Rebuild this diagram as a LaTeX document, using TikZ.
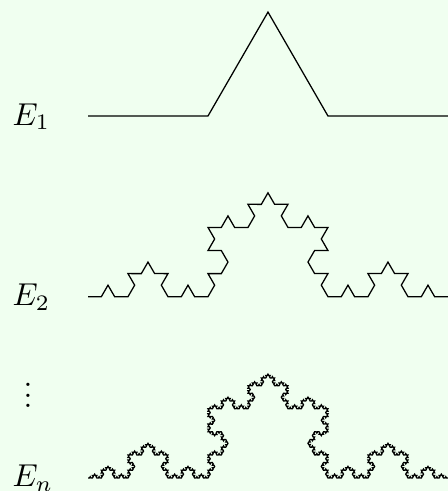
\documentclass[tikz,border=0pt]{standalone}
\usepackage{xcolor}
\usepackage{tikz}
\usetikzlibrary{decorations.fractals}
\definecolor{bgmint}{HTML}{F0FFF0}
\newcommand{\tightvdots}{\vbox{\baselineskip3.3pt\lineskiplimit0pt\hbox{.}\hbox{.}\hbox{.}}}

\begin{document}
\begin{tikzpicture}[
          lbl/.style  = {anchor=base west, inner sep=0pt},
          koch/.style = {decoration=Koch snowflake, line join=miter},
        ]
        \fill[bgmint] (0,0) rectangle (4.9778,-5.4556);
        \useasboundingbox (0,0) rectangle (4.9778,-5.4556);

        % ends of the three curves
        \coordinate (a1) at (0.9778,-1.2889);
        \coordinate (b1) at (4.9778,-1.2889);
        \coordinate (a2) at (0.9778,-3.2967);
        \coordinate (b2) at (4.9778,-3.2967);
        \coordinate (an) at (0.9778,-5.3111);
        \coordinate (bn) at (4.9778,-5.3111);

        \node[lbl] (e1) at (0.1333,-1.3889) {$E_1$};
        \node[lbl] (e2) at (0.1333,-3.3967) {$E_2$};
        \node[lbl] (en) at (0.1333,-5.4111) {$E_n$};
        \node[anchor=base, inner sep=0pt] (dots) at (0.3111,-4.53) {\tightvdots};

        \draw[koch] decorate{ (a1) -- (b1) };
        \draw[koch] decorate{ decorate{ decorate{ (a2) -- (b2) } } };
        \draw[koch] decorate{ decorate{ decorate{ decorate{ decorate{ (an) -- (bn) } } } } };
      \end{tikzpicture}
\end{document}
